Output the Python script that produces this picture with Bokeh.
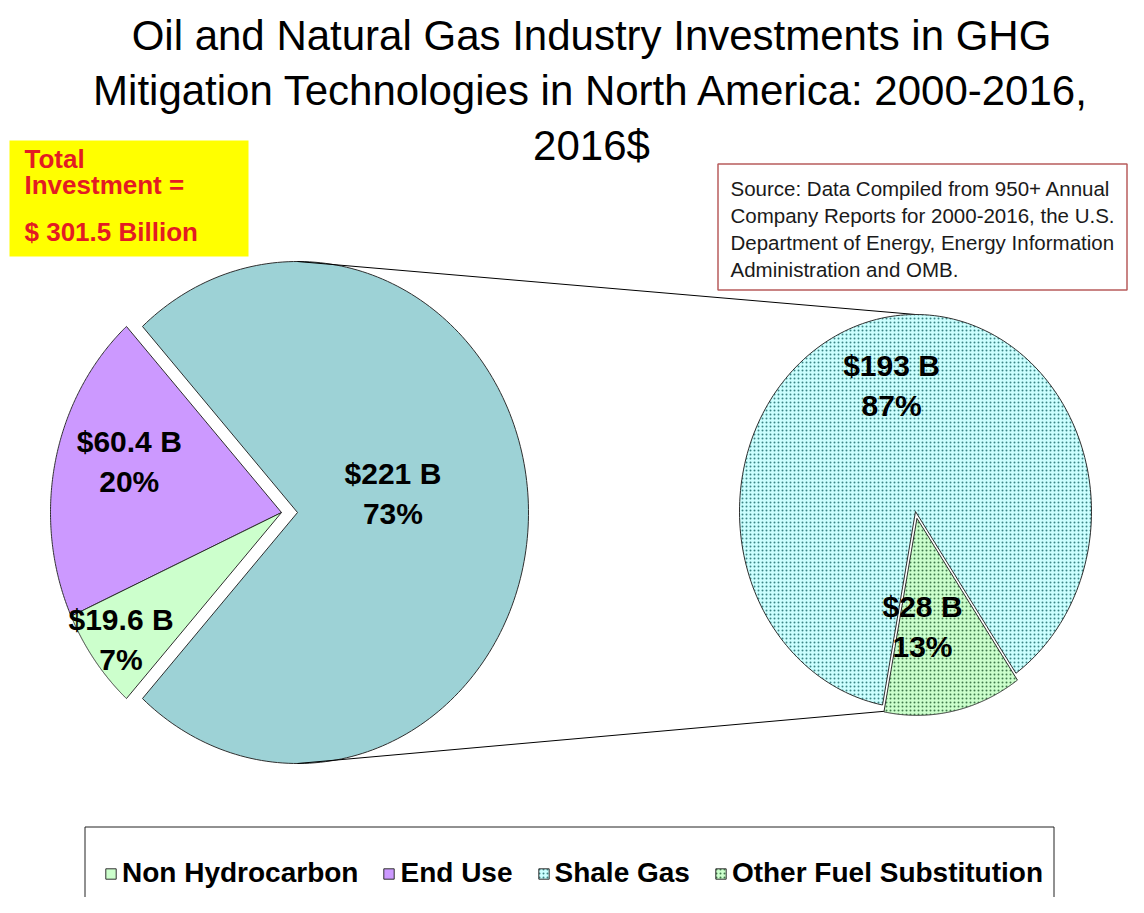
import numpy as np
from bokeh.plotting import figure
from bokeh.models import Range1d, Legend, LegendItem
from bokeh.embed import file_html
from bokeh.resources import INLINE
from bokeh.core.properties import value

# ---------------- data ----------------
title_lines = ["Oil and Natural Gas Industry Investments in GHG",
               "Mitigation Technologies in North America: 2000-2016,",
               "2016$"]
main_categories = ["Non Hydrocarbon", "End Use"]
main_values = [19.6, 60.4]                      # $ billion
sub_categories = ["Shale Gas", "Other Fuel Substitution"]
sub_values = [193, 28]                          # $ billion (split of the third slice)
total_lines = ["Total", "Investment =", "$ 301.5 Billion"]
source_lines = ["Source: Data Compiled from 950+ Annual",
                "Company Reports for 2000-2016, the U.S.",
                "Department  of Energy, Energy Information",
                "Administration and OMB."]

# ---------------- styling / layout ----------------
FONT_NAME = "Liberation Sans"
FONT = value(FONT_NAME)
W, H = 1128, 897
main_colors = ["#CCFFCC", "#CC99FF"]
combined_color = "#9DD2D6"
sub_colors = ["#CCFFFF", "#CCFFCC"]
sub_hatch = ["#3A8585", "#3F7A4A"]
outline = "#2F2F2F"

p = figure(width=W, height=H, x_range=Range1d(0, W), y_range=Range1d(H, 0),
           x_axis_type=None, y_axis_type=None, output_backend="svg",
           toolbar_location=None, min_border=0)
p.grid.visible = False
p.outline_line_color = None
p.background_fill_color = "white"

def wedge(cx, cy, rx, ry, a0, a1):
    t = np.radians(np.linspace(a0, a1, 200))
    xs = np.concatenate([[cx], cx + rx * np.cos(t)])
    ys = np.concatenate([[cy], cy - ry * np.sin(t)])
    return list(xs), list(ys)

def label_xy(cx, cy, rx, ry, ang, frac):
    m = np.radians(ang)
    return cx + frac * rx * np.cos(m), cy - frac * ry * np.sin(m)

def fmt_val(v):
    return "$%g B" % v

LINE_GAP = 20
def slice_label(x, y, val, pct):
    p.text(x=[x, x], y=[y - LINE_GAP, y + LINE_GAP], text=[fmt_val(val), "%d%%" % pct],
           text_font=FONT, text_font_size=value("30px"), text_font_style="bold",
           text_color="black", text_align="center", text_baseline="middle")

# ---- main pie ----
combined = sum(sub_values)
total = sum(main_values) + combined
cx, cy, rx, ry = 281, 512, 231, 251
explode = 16
comb_span = 360.0 * combined / total
a_start = comb_span / 2.0
main_label_frac = [0.86, 0.69]
main_label_nudge = [0.0, -5.5]

renderers = {}
# slices after the combined one, counterclockwise: End Use, then Non Hydrocarbon
a = a_start
for i in [1, 0]:
    span = 360.0 * main_values[i] / total
    xs, ys = wedge(cx, cy, rx, ry, a, a + span)
    r = p.patch(xs, ys, fill_color=main_colors[i], line_color=outline, line_width=1)
    renderers[main_categories[i]] = r
    lx, ly = label_xy(cx, cy, rx, ry, a + span / 2 + main_label_nudge[i], main_label_frac[i])
    slice_label(lx, ly, main_values[i], round(100 * main_values[i] / total))
    a += span

# combined (exploded) slice centered on the right
ccx = cx + explode
xs, ys = wedge(ccx, cy, rx, ry, -comb_span / 2, comb_span / 2)
p.patch(xs, ys, fill_color=combined_color, line_color=outline, line_width=1)
lx, ly = label_xy(ccx, cy, rx, ry, 10.4, 0.42)
slice_label(lx, ly, combined, round(100 * combined / total))

# ---- secondary pie ----
scx, scy, srx, sry = 915, 511, 176, 197
sub_explode = 7
other_mid = 282.0
other_span = 360.0 * sub_values[1] / combined
starts = [other_mid + other_span / 2, other_mid - other_span / 2]
spans = [360.0 * sub_values[0] / combined, other_span]
sub_label_frac = [0.655, 0.55]
sub_label_nudge = [0.0, -8.7]

# connector lines from the combined slice to the secondary pie
p.line([ccx, scx], [cy - ry, scy - sry], line_color="black", line_width=1)
p.line([ccx, scx], [cy + ry, scy + sry], line_color="black", line_width=1)

for i in range(2):
    mid = starts[i] + spans[i] / 2
    off = sub_explode if i == 1 else 0
    ox = scx + off * np.cos(np.radians(mid))
    oy = scy - off * np.sin(np.radians(mid))
    xs, ys = wedge(ox, oy, srx, sry, starts[i], starts[i] + spans[i])
    r = p.patch(xs, ys, fill_color=sub_colors[i], line_color=outline, line_width=1,
                hatch_pattern="dot", hatch_scale=4, hatch_weight=1.5,
                hatch_color=sub_hatch[i], hatch_alpha=1.0)
    renderers[sub_categories[i]] = r
    lx, ly = label_xy(ox, oy, srx, sry, mid + sub_label_nudge[i], sub_label_frac[i])
    slice_label(lx, ly, sub_values[i], round(100 * sub_values[i] / combined))

# ---- title ----
p.text(x=[591] * 3, y=[35, 90, 145], text=title_lines, text_font=FONT,
       text_font_size=value("42px"), text_color="black", text_align="center",
       text_baseline="middle")

# ---- total investment box ----
p.quad(left=[9], right=[248], top=[140], bottom=[256], fill_color="#FFFF00", line_color=None)
p.text(x=[24] * 3, y=[158, 184, 231], text=total_lines, text_font=FONT,
       text_font_size=value("26px"), text_font_style="bold", text_color="#E31B23",
       text_align="left", text_baseline="middle")

# ---- source box ----
p.quad(left=[717.5], right=[1126.5], top=[163.5], bottom=[289.5], fill_color="white",
       line_color="#B85C5C", line_width=1.5)
p.text(x=[730] * 4, y=[188, 215, 242, 269], text=source_lines, text_font=FONT,
       text_font_size=value("20.5px"), text_color="#1A1A1A", text_align="left",
       text_baseline="middle")

# ---- legend ----
p.quad(left=[84.5], right=[1053.5], top=[826.5], bottom=[960], fill_color=None,
       line_color="#222222", line_width=1)
legend_order = main_categories + sub_categories
legend = Legend(items=[LegendItem(label=c, renderers=[renderers[c]]) for c in legend_order],
                orientation="horizontal", location=(104, 8),
                label_text_font=FONT_NAME, label_text_font_size="28px",
                label_text_font_style="bold", label_text_color="black",
                glyph_width=13, glyph_height=13, label_standoff=5, spacing=24,
                padding=0, margin=0, border_line_color=None,
                background_fill_alpha=0, label_height=28)
p.add_layout(legend)

open("out.html", "w").write(file_html(p, INLINE))
